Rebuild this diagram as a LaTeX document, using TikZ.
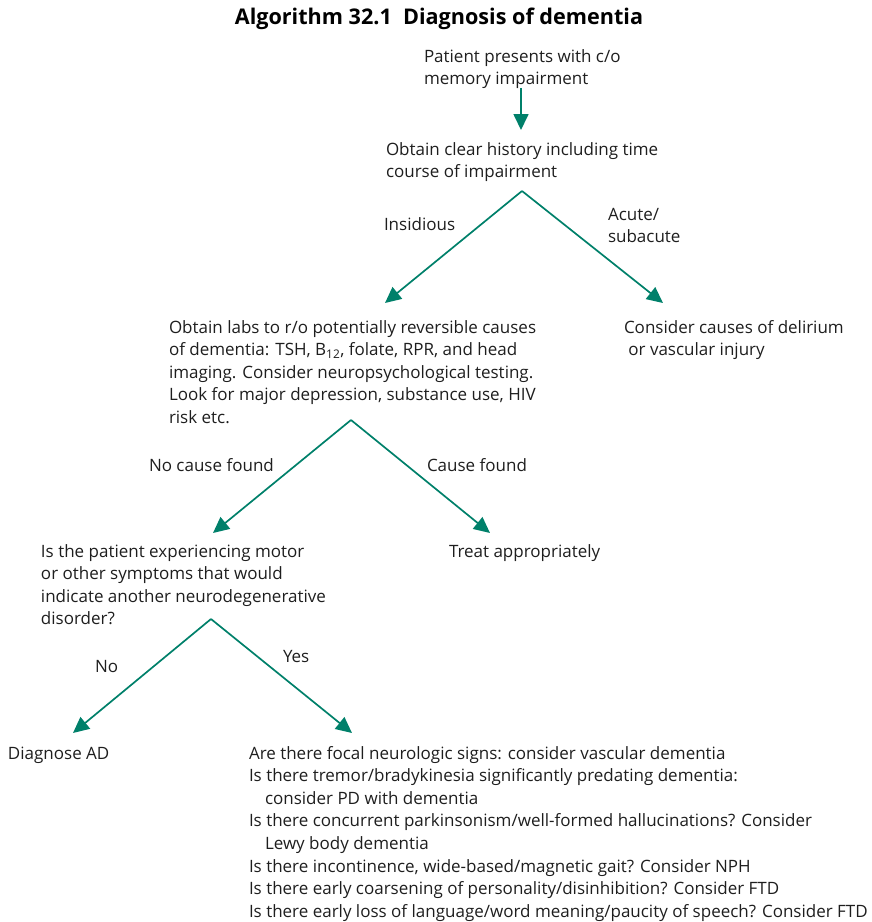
\documentclass[tikz,border=0pt]{standalone}
\usepackage{fontspec}
\setmainfont{Open Sans}
\usetikzlibrary{arrows.meta}

\definecolor{flowteal}{RGB}{0,128,106}
\definecolor{inkgrey}{RGB}{30,30,30}

% stacked left-aligned lines whose first baseline sits on the node's base
\newcommand{\stacklines}[1]{\begin{tabular}[t]{@{}l@{}}#1\end{tabular}}

\tikzset{
  txt/.style={anchor=base west, inner sep=0pt, outer sep=0pt, text=inkgrey,
    font=\fontsize{17}{22.6}\selectfont},
  flow/.style={draw=flowteal, line width=1.7pt,
    -{Triangle[length=16pt,width=15pt]}}
}

\begin{document}
\begin{tikzpicture}[x=1pt,y=-1pt]
\useasboundingbox (0,0) rectangle (872,922);

% title
\node[anchor=base, inner sep=0pt, text=black, font=\fontsize{21.6}{24}\selectfont\bfseries]
  (title) at (439,24) {Algorithm 32.1\ \ Diagnosis of dementia};

% boxes of text
\node[txt] (start) at (424,62) {\stacklines{Patient presents with c/o\\ memory impairment}};
\node[txt] (history) at (386,155) {\stacklines{Obtain clear history including time\\ course of impairment}};
\node[txt] (labs) at (169,333) {\stacklines{Obtain labs to r/o potentially reversible causes\\
  of dementia: TSH, B\textsubscript{12}, folate, RPR, and head\\
  imaging. Consider neuropsychological testing.\\
  Look for major depression, substance use, HIV\\
  risk etc.}};
\node[txt] (delirium) at (624,333) {\stacklines{Consider causes of delirium\\ \ or vascular injury}};
\node[txt] (motor) at (41,557) {\stacklines{Is the patient experiencing motor\\
  or other symptoms that would\\
  indicate another neurodegenerative\\
  disorder?}};
\node[txt] (treat) at (449,557) {Treat appropriately};
\node[txt] (ad) at (8,759) {Diagnose AD};
\node[txt] (others) at (249,759) {\stacklines{Are there focal neurologic signs: consider vascular dementia\\
  Is there tremor/bradykinesia significantly predating dementia:\\
  \hspace{16pt}consider PD with dementia\\
  Is there concurrent parkinsonism/well-formed hallucinations? Consider\\
  \hspace{16pt}Lewy body dementia\\
  Is there incontinence, wide-based/magnetic gait? Consider NPH\\
  Is there early coarsening of personality/disinhibition? Consider FTD\\
  Is there early loss of language/word meaning/paucity of speech? Consider FTD}};

% branch labels
\node[txt] (lblins) at (384,230) {Insidious};
\node[txt] (lblacute) at (608,220) {\stacklines{Acute/\\ subacute}};
\node[txt] (lblnocause) at (149,471) {No cause found};
\node[txt] (lblcause) at (427,471) {Cause found};
\node[txt] (lblno) at (95,672) {No};
\node[txt] (lblyes) at (283,662) {Yes};

% branch points and arrow ends
\coordinate (apex1) at (522,191);
\coordinate (apex2) at (351,420);
\coordinate (apex3) at (211,619);
\coordinate (arrA) at (385,303);
\coordinate (arrB) at (663,303);
\coordinate (arrC) at (213,533);
\coordinate (arrD) at (490,533);
\coordinate (arrE) at (73,733);
\coordinate (arrF) at (352,733);
\coordinate (topA) at (521,88);
\coordinate (topB) at (521,130);

% connectors
\draw[flow] (topA) -- (topB);
\draw[flow] (apex1) -- (arrA);
\draw[flow] (apex1) -- (arrB);
\draw[flow] (apex2) -- (arrC);
\draw[flow] (apex2) -- (arrD);
\draw[flow] (apex3) -- (arrE);
\draw[flow] (apex3) -- (arrF);
\end{tikzpicture}
\end{document}
